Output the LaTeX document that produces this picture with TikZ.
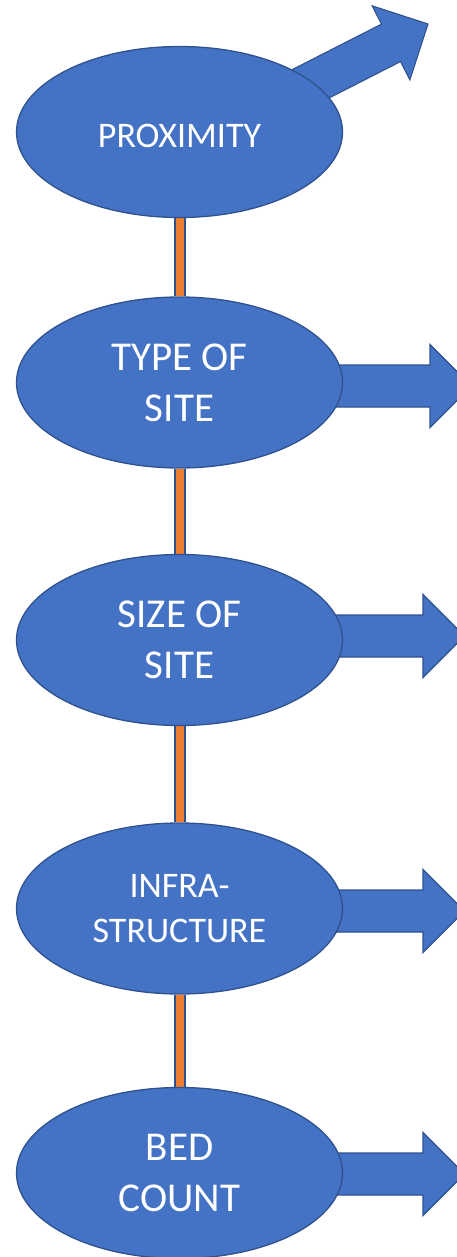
\documentclass[tikz,border=0pt]{standalone}
\usepackage{fontspec}
\setmainfont{Carlito}
\usetikzlibrary{shapes.geometric,backgrounds}
\definecolor{boxblue}{HTML}{4472C4}
\definecolor{edgeblue}{HTML}{2F528F}
\definecolor{linkorange}{HTML}{ED7D31}
\newcommand\barrowpath[1]{(0,0) -- (-41.5,41.5) -- (-41.5,21) -- (-#1,21) -- (-#1,-21) -- (-41.5,-21) -- (-41.5,-41.5) -- cycle}
\begin{document}
\begin{tikzpicture}[x=1pt,y=-1pt,
  stage/.style={ellipse, fill=boxblue, draw=edgeblue, line width=1.3pt,
    minimum width=326pt, minimum height=171pt, inner sep=0pt,
    text=white, align=center},
  bigtext/.style={font=\fontsize{41}{51}\selectfont},
  smalltext/.style={font=\fontsize{36}{45}\selectfont},
  blockarrow/.style={fill=boxblue, draw=edgeblue, line width=1.1pt, line join=miter},
  linkouter/.style={draw=edgeblue, line width=12pt},
  linkinner/.style={draw=linkorange, line width=7.5pt}]
\useasboundingbox (0,0) rectangle (456,1257);

\node[stage, smalltext] (p1) at (179.5,132) {\raisebox{-3.5pt}[\height][0pt]{PROXIMITY}};
\node[stage, bigtext] (p2) at (179.5,382.5) {TYPE OF\\SITE};
\node[stage, bigtext] (p3) at (179.5,640) {SIZE OF\\SITE};
\node[stage, smalltext] (p4) at (179.5,908.5) {INFRA-\\STRUCTURE};
\node[stage, bigtext] (p5) at (179.5,1173) {BED\\COUNT};

\begin{pgfonlayer}{background}
  \foreach \a/\b in {p1/p2, p2/p3, p3/p4, p4/p5}{
    \draw[linkouter] ([xshift=0.5pt]\a.south) -- ([xshift=0.5pt]\b.north);
    \draw[linkinner] ([xshift=0.5pt]\a.south) -- ([xshift=0.5pt]\b.north);
  }
  \filldraw[blockarrow, shift={(428,24)}, rotate=27] \barrowpath{161};
  \filldraw[blockarrow, shift={(471.5,386)}] \barrowpath{150};
  \filldraw[blockarrow, shift={(464.5,636)}] \barrowpath{145};
  \filldraw[blockarrow, shift={(464.5,911)}] \barrowpath{145};
  \filldraw[blockarrow, shift={(464.5,1174)}] \barrowpath{145};
\end{pgfonlayer}
\end{tikzpicture}
\end{document}
